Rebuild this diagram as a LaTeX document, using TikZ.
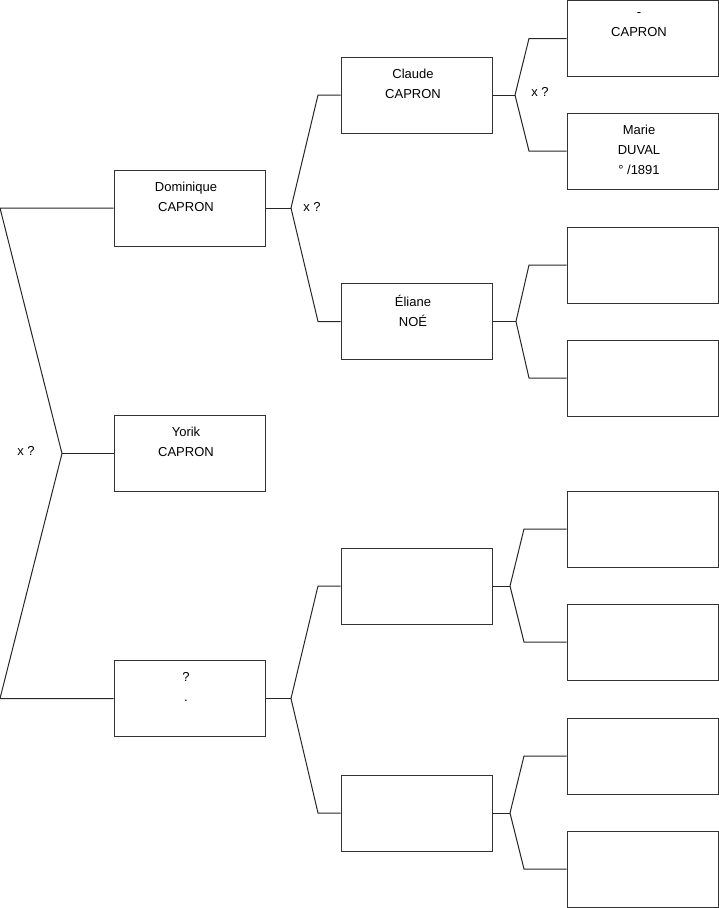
\documentclass[tikz,border=0pt]{standalone}
\usepackage{fontspec}
\setmainfont{Liberation Sans}
\usetikzlibrary{positioning,calc}
\tikzset{
  person/.style={draw=black!80,line width=1pt,minimum width=151pt,
    minimum height=76pt,inner sep=0pt},
  who/.style={anchor=north,align=center,inner sep=0pt,yshift=-12pt,
    xshift=-3.5pt,font=\fontsize{13}{20}\selectfont},
  link/.style={line width=1pt,black!85},
  mrg/.style={font=\fontsize{13}{15}\selectfont,inner sep=0pt},
}
\begin{document}
\begin{tikzpicture}[x=1pt,y=-1pt]
  \useasboundingbox (0,0) rectangle (719,908);
  % generation 1
  \node[person] (dom) at (189.5,208) {};
  \node[person] (yor) at (189.5,453.5) {};
  \node[person] (unk) at (189.5,698.5) {};
  \node[who] at (dom.north) {Dominique\\CAPRON};
  \node[who] at (yor.north) {Yorik\\CAPRON};
  \node[who] at (unk.north) {?\\.};
  % generation 2
  \node[person] (cla) at (416.5,95) {};
  \node[person] (eli) at (416.5,321.5) {};
  \node[person] (gp3) at (416.5,586) {};
  \node[person] (gp4) at (416.5,813) {};
  \node[who] at (cla.north) {Claude\\CAPRON};
  \node[who] at (eli.north) {Éliane\\NOÉ};
  % generation 3
  \foreach \n/\y in {a/38.5,b/151,c/265,d/378,e/529,f/642,g/756,h/869}
    \node[person] (g\n) at (642.5,\y) {};
  \node[who] at (ga.north) {-\\CAPRON};
  \node[who] at (gb.north) {Marie\\DUVAL\\° /1891};
  % junctions
  \coordinate (j0) at (62,453.5);
  \coordinate (j1) at (291,208);
  \coordinate (j2) at (291,698.5);
  \coordinate (j3) at (515,95);
  \coordinate (j4) at (516,321.5);
  \coordinate (j5) at (510,586);
  \coordinate (j6) at (510,813);
  % root bracket
  \draw[link] (dom.west) -- (0,208) -- (j0) -- (0,698.5) -- (unk.west);
  \draw[link] (j0) -- (yor.west);
  % other brackets
  \foreach \s/\j/\u/\l/\x in {dom/j1/cla/eli/318,unk/j2/gp3/gp4/318,
      cla/j3/ga/gb/529,eli/j4/gc/gd/529,gp3/j5/ge/gf/524,gp4/j6/gg/gh/524}{
    \draw[link] (\s.east) -- (\j);
    \draw[link] (\j) -- (\x,0 |- \u.west) -- (\u.west);
    \draw[link] (\j) -- (\x,0 |- \l.west) -- (\l.west);
  }
  \node[mrg] (m0) at (26,451) {x ?};
  \node[mrg] (m1) at (312,207) {x ?};
  \node[mrg] (m2) at (540,92) {x ?};
\end{tikzpicture}
\end{document}
